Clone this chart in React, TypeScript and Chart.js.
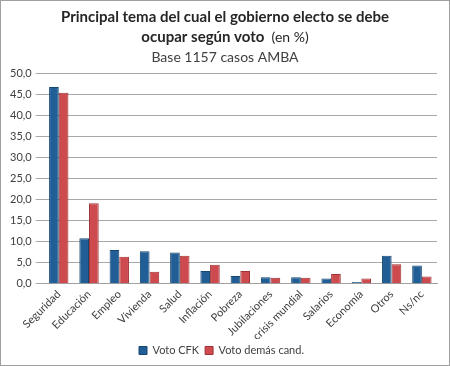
import React, { useEffect, useRef } from "react";
import { Chart, registerables } from "chart.js";

Chart.register(...registerables);

const categories = ["Seguridad", "Educación", "Empleo", "Vivienda", "Salud", "Inflación", "Pobreza", "Jubilaciones", "crisis mundial", "Salarios", "Economía", "Otros", "Ns/nc"];
const votoCFK = [46.7, 10.8, 8.0, 7.7, 7.4, 3.0, 1.8, 1.5, 1.5, 1.2, 0.4, 6.6, 4.3];
const votoDemas = [45.3, 19.1, 6.4, 2.8, 6.6, 4.5, 3.0, 1.4, 1.4, 2.3, 1.2, 4.6, 1.7];
const seriesNames = ["Voto CFK", "Voto demás cand."];
const titleLine1 = "Principal tema del cual el gobierno electo se debe";
const titleLine2Bold = "ocupar según voto";
const titleLine2Normal = "  (en %)";
const subtitle = "Base 1157 casos AMBA";

const FONT = "Lato, 'Open Sans', sans-serif";

const titlePlugin = {
  id: "customTitle",
  beforeDraw(chart: any) {
    const ctx = chart.ctx;
    ctx.save();
    ctx.fillStyle = "#ffffff";
    ctx.fillRect(0, 0, chart.width, chart.height);
    ctx.strokeStyle = "#a0a0a0";
    ctx.lineWidth = 1;
    ctx.strokeRect(0.5, 0.5, chart.width - 1, chart.height - 1);
    ctx.restore();
  },
  afterDraw(chart: any) {
    const ctx = chart.ctx;
    const cx = chart.width / 2;
    ctx.save();
    ctx.fillStyle = "#262626";
    ctx.textBaseline = "middle";
    ctx.textAlign = "center";
    ctx.font = `bold 15px ${FONT}`;
    ctx.fillText(titleLine1, cx, 17);
    const boldW = ctx.measureText(titleLine2Bold).width;
    ctx.font = `14px ${FONT}`;
    const normW = ctx.measureText(titleLine2Normal).width;
    const start = cx - (boldW + normW) / 2;
    ctx.textAlign = "left";
    ctx.font = `bold 15px ${FONT}`;
    ctx.fillText(titleLine2Bold, start, 37);
    ctx.font = `14px ${FONT}`;
    ctx.fillText(titleLine2Normal, start + boldW, 37);
    ctx.textAlign = "center";
    ctx.font = `14px ${FONT}`;
    ctx.fillStyle = "#404040";
    ctx.fillText(subtitle, cx, 57);
    ctx.restore();
  },
};

export default function App() {
  const ref = useRef<HTMLCanvasElement>(null);
  useEffect(() => {
    document.body.style.margin = "0";
    const chart = new Chart(ref.current!, {
      type: "bar",
      data: {
        labels: categories,
        datasets: [
          { label: seriesNames[0], data: votoCFK, backgroundColor: "#215e96", borderColor: "#17476f", borderWidth: 1, categoryPercentage: 0.64, barPercentage: 1.0 },
          { label: seriesNames[1], data: votoDemas, backgroundColor: "#cd4a4e", borderColor: "#9e3236", borderWidth: 1, categoryPercentage: 0.64, barPercentage: 1.0 },
        ],
      },
      options: {
        animation: false,
        responsive: false,
        maintainAspectRatio: false,
        layout: { padding: { top: 73, right: 13, left: 6, bottom: 0 } },
        plugins: {
          title: { display: false },
          tooltip: { enabled: false },
          legend: {
            position: "bottom",
            labels: { boxWidth: 8, boxHeight: 8, color: "#404040", font: { family: FONT, size: 11 }, padding: 6 },
          },
        },
        scales: {
          x: {
            grid: { display: false },
            border: { color: "#a0a0a0" },
            ticks: { maxRotation: 45, minRotation: 45, color: "#404040", font: { family: FONT, size: 11 }, padding: -4 },
          },
          y: {
            min: 0,
            max: 50,
            ticks: {
              stepSize: 5,
              color: "#404040",
              font: { family: FONT, size: 11 },
              padding: 4,
              callback: (v: any) => Number(v).toFixed(1).replace(".", ","),
            },
            grid: { color: "#a8a8a8", tickLength: 8 },
            border: { display: false },
          },
        },
      },
      plugins: [titlePlugin],
    });
    return () => chart.destroy();
  }, []);
  return (
    <div style={{ width: 450, height: 366 }}>
      <canvas ref={ref} width={450} height={366} />
    </div>
  );
}
